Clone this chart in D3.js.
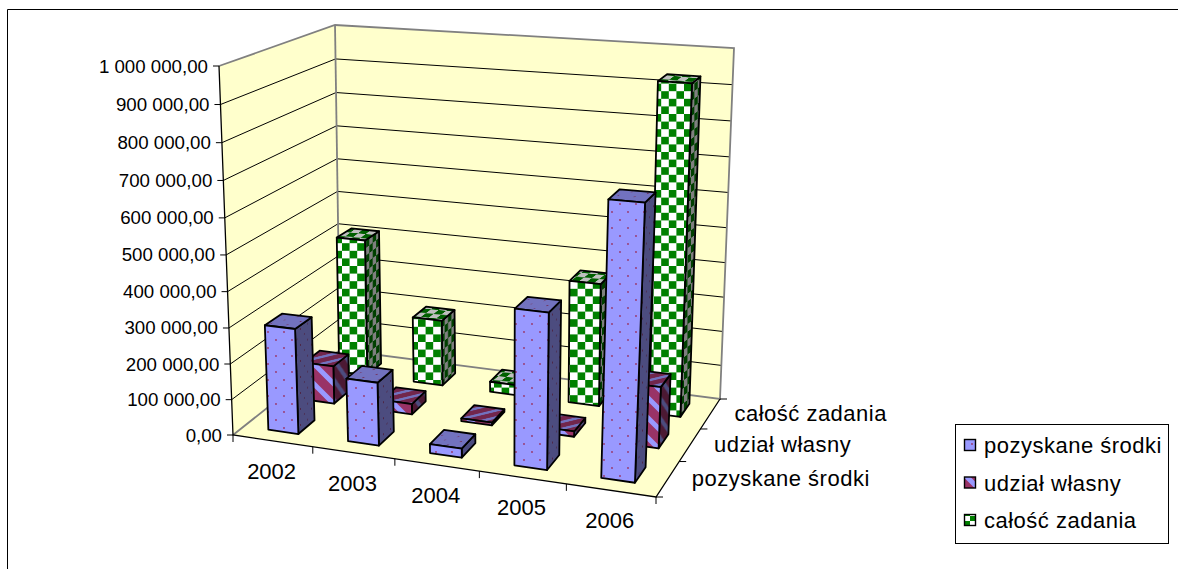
<!DOCTYPE html>
<html><head><meta charset="utf-8">
<script src="https://cdn.jsdelivr.net/npm/d3@7/dist/d3.min.js"></script>
<style>html,body{margin:0;padding:0;background:#fff;overflow:hidden}svg{display:block}
text{font-family:"Liberation Sans",Arial,sans-serif;fill:#000}</style></head><body>
<svg id="c" width="1178" height="569"></svg>
<script>
const categories = ["2002","2003","2004","2005","2006"];
const seriesNames = ["pozyskane środki","udział własny","całość zadania"];
const pozyskane = [295000,175000,25000,420000,725000];
const udzial = [110000,30000,8000,15000,170000];
const calosc = [410000,195000,30000,355000,930000];
const yTicks = [0,100000,200000,300000,400000,500000,600000,700000,800000,900000,1000000];
const seriesValues = [pozyskane,udzial,calosc];

const svg = d3.select("#c");
// projective frame of the 3-D box: floor and top corners (front-left, front-right, back-right, back-left)
const floorC = [[233,435],[656,497],[720,399],[340,350]];
const topC = [[219,66],[674,99],[734,48],[335,25]];
function homography(q){
  const [[x0,y0],[x1,y1],[x2,y2],[x3,y3]] = q;
  const dx1=x1-x2,dx2=x3-x2,sx=x0-x1+x2-x3,dy1=y1-y2,dy2=y3-y2,sy=y0-y1+y2-y3;
  const den=dx1*dy2-dx2*dy1, g=(sx*dy2-dx2*sy)/den, h=(dx1*sy-sx*dy1)/den;
  const a=x1-x0+g*x1,b=x3-x0+h*x3,d=y1-y0+g*y1,e=y3-y0+h*y3;
  return (u,v)=>{const w=g*u+h*v+1;return [(a*u+b*v+x0)/w,(d*u+e*v+y0)/w];};
}
const H0=homography(floorC),H1=homography(topC);
const zScale=d3.scaleLinear().domain([0,1000000]).range([0,1]);
const persp=0.953;
function P(u,v,val){
  const t=zScale(val), s=t*persp/(1+(persp-1)*t);
  const a=H0(u,v),b=H1(u,v);
  return [a[0]+(b[0]-a[0])*s,a[1]+(b[1]-a[1])*s];
}
const uScale=d3.scaleBand().domain(categories).range([0,1]).paddingInner(0.62).paddingOuter(0.31);
const vScale=d3.scaleBand().domain(seriesNames).range([0,1]).paddingInner(0.56).paddingOuter(0.28);
const uEdge=d3.scalePoint().domain(d3.range(categories.length+1)).range([0,1]);
const vEdge=d3.scalePoint().domain(d3.range(seriesNames.length+1)).range([0,1]);
const line=d3.line();
const poly=pts=>line(pts)+"Z";

// patterns
const defs=svg.append("defs");
const faceT={front:null,side:"matrix(0.45,-0.34,0,1,0,0)",top:"matrix(1,0.1,0.65,-0.5,0,0)"};
const CELL=7.6;
for(const face of Object.keys(faceT)){
  const tr=faceT[face];
  const mk=(id,w,h)=>{const p=defs.append("pattern").attr("id",id+"-"+face).attr("patternUnits","userSpaceOnUse").attr("width",w).attr("height",h);if(tr)p.attr("patternTransform",tr);return p;};
  let p=mk("s0",16,16);
  p.append("rect").attr("width",16).attr("height",16).attr("fill","#9999ff");
  p.append("circle").attr("cx",4).attr("cy",4).attr("r",0.9).attr("fill","#993366");
  p.append("circle").attr("cx",12).attr("cy",12).attr("r",0.9).attr("fill","#993366");
  p=mk("s1",20,20);
  p.append("rect").attr("width",20).attr("height",20).attr("fill","#993366");
  p.append("path").attr("d","M0,-10L30,20M-10,0L20,30").attr("stroke","#9999ff").attr("stroke-width",5).attr("fill","none");
  p=mk("s2",CELL*2,CELL*2);
  p.append("rect").attr("width",CELL*2).attr("height",CELL*2).attr("fill","#ffffff");
  p.append("rect").attr("width",CELL).attr("height",CELL).attr("x",CELL).attr("fill","#008000");
  p.append("rect").attr("width",CELL).attr("height",CELL).attr("y",CELL).attr("fill","#008000");
}
const legP=defs.append("pattern").attr("id","leg2").attr("patternUnits","userSpaceOnUse").attr("width",10).attr("height",10).attr("x",965).attr("y",516);
legP.append("rect").attr("width",10).attr("height",10).attr("fill","#fff");
legP.append("rect").attr("width",5).attr("height",5).attr("x",5).attr("fill","#008000");
legP.append("rect").attr("width",5).attr("height",5).attr("y",5).attr("fill","#008000");

// chart frame
svg.append("path").attr("d","M7.5,569V9.5H1178").attr("fill","none").attr("stroke","#000").attr("stroke-width",1);

// walls and floor
const WALL="#ffffcc",EDGE="#808080";
svg.append("path").attr("d",poly([P(0,0,0),P(0,1,0),P(0,1,1e6),P(0,0,1e6)])).attr("fill",WALL);
svg.append("path").attr("d",poly([P(0,1,0),P(1,1,0),P(1,1,1e6),P(0,1,1e6)])).attr("fill",WALL);
svg.append("path").attr("d",poly([P(0,0,0),P(1,0,0),P(1,1,0),P(0,1,0)])).attr("fill",WALL);
// gridlines
svg.append("g").selectAll("path").data(yTicks.filter(d=>d>0&&d<1e6)).join("path")
  .attr("d",d=>line([P(0,0,d),P(0,1,d),P(1,1,d)])).attr("fill","none").attr("stroke","#000").attr("stroke-width",1);
// wall edges
const edge=(pts,c,w)=>svg.append("path").attr("d",line(pts)).attr("fill","none").attr("stroke",c).attr("stroke-width",w);
edge([P(0,0,1e6),P(0,1,1e6),P(1,1,1e6),P(1,1,0),P(0,1,0),P(0,0,0)],EDGE,1.8);
edge([P(0,1,1e6),P(0,1,0)],EDGE,1.8);
// axes
edge([P(0,0,1e6),P(0,0,0),P(1,0,0),P(1,1,0)],"#000",1.3);
// ticks
const tickG=svg.append("g").attr("stroke","#000").attr("stroke-width",1);
yTicks.forEach(d=>{const p=P(0,0,d);tickG.append("line").attr("x1",p[0]-6).attr("x2",p[0]).attr("y1",p[1]).attr("y2",p[1]);});
d3.range(categories.length+1).forEach(i=>{const p=P(uEdge(i),0,0);tickG.append("line").attr("x1",p[0]).attr("x2",p[0]).attr("y1",p[1]).attr("y2",p[1]+7);});
d3.range(seriesNames.length+1).forEach(i=>{const p=P(1,vEdge(i),0);tickG.append("line").attr("x1",p[0]).attr("x2",p[0]+7).attr("y1",p[1]).attr("y2",p[1]);});

// bars: back series first, left to right
const barG=svg.append("g");
[2,1,0].forEach(si=>{
  const name=seriesNames[si], v0=vScale(name), v1=v0+vScale.bandwidth();
  categories.forEach((c,ci)=>{
    const val=seriesValues[si][ci], u0=uScale(c), u1=u0+uScale.bandwidth();
    const front=[P(u0,v0,0),P(u1,v0,0),P(u1,v0,val),P(u0,v0,val)];
    const side=[P(u1,v0,0),P(u1,v1,0),P(u1,v1,val),P(u1,v0,val)];
    const top=[P(u0,v0,val),P(u1,v0,val),P(u1,v1,val),P(u0,v1,val)];
    const g=barG.append("g");
    const face=(pts,kind,shade)=>{
      g.append("path").attr("d",poly(pts)).attr("fill",`url(#s${si}-${kind})`);
      if(shade>0) g.append("path").attr("d",poly(pts)).attr("fill","#000").attr("fill-opacity",shade);
      g.append("path").attr("d",poly(pts)).attr("fill","none").attr("stroke","#000").attr("stroke-width",1.8).attr("stroke-linejoin","round");
    };
    face(side,"side",0.5);
    face(top,"top",0.25);
    face(front,"front",0);
  });
});

// text
const FS=18.7, FL=22;
svg.append("g").selectAll("text").data(yTicks).join("text")
  .attr("x",d=>P(0,0,d)[0]-11).attr("y",d=>P(0,0,d)[1]+6.5).attr("text-anchor","end").attr("font-size",FS)
  .text(d=>d3.format(",.2f")(d).replace(/,/g," ").replace(".",","));
svg.append("g").selectAll("text").data(categories).join("text")
  .attr("x",d=>P(uScale(d)+uScale.bandwidth()/2,0,0)[0]-1)
  .attr("y",d=>P(uScale(d)+uScale.bandwidth()/2,0,0)[1]+38).attr("text-anchor","middle").attr("font-size",FL).text(d=>d);
svg.append("g").selectAll("text").data(seriesNames).join("text")
  .attr("x",d=>P(1,vScale(d)+vScale.bandwidth()/2,0)[0]+24)
  .attr("y",d=>P(1,vScale(d)+vScale.bandwidth()/2,0)[1]+7).attr("font-size",FL).attr("letter-spacing",0.5).text(d=>d);

// legend
const lg=svg.append("g");
lg.append("rect").attr("x",955.5).attr("y",424.5).attr("width",213).attr("height",119).attr("fill","#fff").attr("stroke","#000").attr("stroke-width",1);
const legY=d3.scalePoint().domain(seriesNames).range([446,521]);
seriesNames.forEach((n,i)=>{
  const y=legY(n);
  lg.append("rect").attr("x",964.5).attr("y",y-6.5).attr("width",11).attr("height",11)
    .attr("fill",i==2?"url(#leg2)":`url(#s${i}-front)`).attr("stroke","#000").attr("stroke-width",1.4);
  lg.append("text").attr("x",984).attr("y",y+7).attr("font-size",FL).attr("letter-spacing",0.5).text(n);
});
</script></body></html>
